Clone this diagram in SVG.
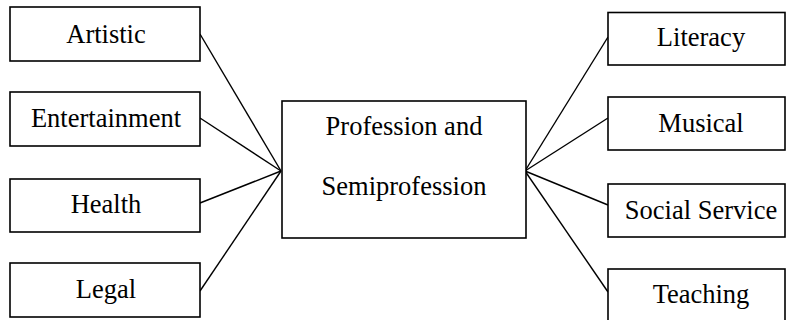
<svg xmlns="http://www.w3.org/2000/svg" width="787" height="320" viewBox="0 0 787 320">
<style>
.box{fill:#fff;stroke:#000;stroke-width:1.6}
.lbl{font-family:"Liberation Serif","Times New Roman",serif;font-size:26.5px;fill:#000;text-anchor:middle}
.conn line{stroke:#000;stroke-width:1.4}
</style>
<rect width="787" height="320" fill="#fff"/>
<g class="conn">
<line x1="200" y1="34" x2="281" y2="171"/>
<line x1="200" y1="118" x2="281" y2="171"/>
<line x1="200" y1="203" x2="281" y2="171"/>
<line x1="200" y1="291" x2="281" y2="171"/>
<line x1="525" y1="171" x2="608" y2="37"/>
<line x1="525" y1="171" x2="608" y2="118"/>
<line x1="525" y1="171" x2="608" y2="205"/>
<line x1="525" y1="171" x2="608" y2="292"/>
</g>
<g id="center"><rect class="box" x="282" y="101" width="244" height="137"/><text class="lbl" x="404" y="135">Profession and</text><text class="lbl" x="404" y="195">Semiprofession</text></g>
<g id="artistic"><rect class="box" x="10" y="7" width="190" height="54"/><text class="lbl" x="106" y="43">Artistic</text></g>
<g id="entertainment"><rect class="box" x="10" y="92" width="190" height="54"/><text class="lbl" x="106" y="127">Entertainment</text></g>
<g id="health"><rect class="box" x="10" y="179" width="190" height="53"/><text class="lbl" x="106" y="213">Health</text></g>
<g id="legal"><rect class="box" x="10" y="263" width="190" height="54"/><text class="lbl" x="106" y="298">Legal</text></g>
<g id="literacy"><rect class="box" x="608" y="12.5" width="177" height="52.5"/><text class="lbl" x="701" y="46">Literacy</text></g>
<g id="musical"><rect class="box" x="608" y="97" width="177" height="53"/><text class="lbl" x="701" y="132">Musical</text></g>
<g id="social"><rect class="box" x="608" y="184" width="177" height="53"/><text class="lbl" x="701" y="219">Social Service</text></g>
<g id="teaching"><rect class="box" x="608" y="269" width="177" height="60"/><text class="lbl" x="701" y="303">Teaching</text></g>
</svg>
